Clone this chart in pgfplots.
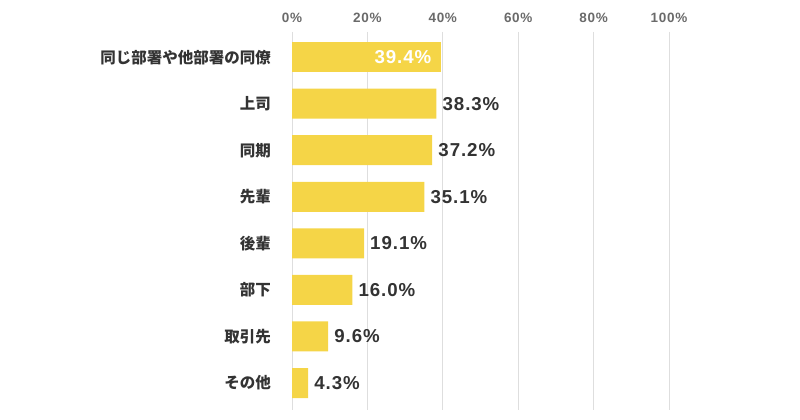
\documentclass[border=0pt]{standalone}
\usepackage{fontspec}
\usepackage{pgfplots}
\pgfplotsset{compat=1.18}
\setmainfont{Liberation Sans}
\newfontfamily\numfont{Liberation Sans}[LetterSpace=5]
\newfontfamily\jp{Noto Sans CJK JP}
\definecolor{baryellow}{HTML}{F5D547}
\definecolor{gridgray}{HTML}{DEDEDE}
\definecolor{labelgray}{HTML}{333333}
\definecolor{tickgray}{HTML}{6A6A6A}
\begin{document}
\begin{tikzpicture}
\useasboundingbox (0,0) rectangle (800bp,420bp);
\begin{axis}[
    at={(292bp,10bp)}, anchor=south west,
    scale only axis, width=377bp, height=378bp,
    xbar, bar width=30bp, bar shift=0pt,
    xmin=0, xmax=100, xtick={0,20,...,100},
    ymin=-0.54, ymax=7.58, y dir=reverse,
    ytick={0,...,7},
    yticklabels={同じ部署や他部署の同僚,上司,同期,先輩,後輩,部下,取引先,その他},
    xmajorgrids, grid style={gridgray, line width=0.8bp},
    axis line style={draw=none},
    major tick length=0pt,
    xticklabel pos=top,
    /pgf/number format/assume math mode=true,
    xticklabel={\pgfmathprintnumber{\tick}\%},
    xticklabel style={font=\numfont\bfseries\fontsize{13.5bp}{13.5bp}\selectfont,
        text=tickgray, inner sep=0pt, anchor=south, yshift=9bp},
    yticklabel style={font=\jp\bfseries\fontsize{15.5bp}{15.5bp}\selectfont,
        text=labelgray, inner sep=0pt, anchor=east, xshift=-21bp},
    point meta=x,
    nodes near coords={\pgfmathprintnumber[fixed,precision=1,fixed zerofill]{\pgfplotspointmeta}\%},
    nodes near coords style={font=\numfont\bfseries\fontsize{18.7bp}{18.7bp}\selectfont,
        inner sep=0pt},
]
\addplot[fill=baryellow, draw=none,
    every node near coord/.append style={anchor=east, xshift=-9bp, text=white}]
    coordinates {(39.4,0)};
\addplot[fill=baryellow, draw=none,
    every node near coord/.append style={anchor=west, xshift=6bp, text=labelgray}]
    coordinates {(38.3,1) (37.2,2) (35.1,3) (19.1,4) (16.0,5) (9.6,6) (4.3,7)};
\end{axis}
\end{tikzpicture}
\end{document}
